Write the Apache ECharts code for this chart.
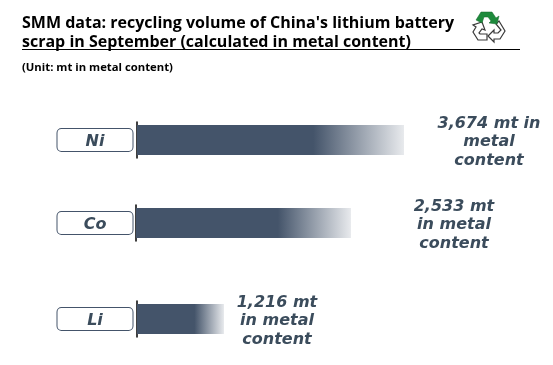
<!DOCTYPE html>
<html>
<head>
<meta charset="utf-8">
<style>
  html, body { margin: 0; padding: 0; background: #fff; }
  #myChart { width: 553px; height: 365px; }
</style>
</head>
<body>
<div id="myChart"></div>
<script src="https://cdn.jsdelivr.net/npm/echarts@6/dist/echarts.min.js"></script>
<script>
const categories = ['Ni', 'Co', 'Li']
// the labelled volumes
const values = [3674, 2533, 1216]
// bar lengths, the artwork is not drawn to scale
const barLengths = [3674, 2958, 1197]
const valueLines = [['mt in', 'metal', 'content'], ['mt', 'in metal', 'content'], ['mt', 'in metal', 'content']]

const title = "SMM data: recycling volume of China's lithium battery\nscrap in September (calculated in metal content)"
const unit = '(Unit: mt in metal content)'

const gridLeft = [137, 136, 137]
const gridTop = [122, 205, 301]
const labelDistance = [85, 103, 53]
const labelFont = 'DejaVu Sans'

const grids = [], xAxes = [], yAxes = [], series = []
categories.forEach(function (name, i) {
  grids.push({ left: gridLeft[i], top: gridTop[i], width: 267, height: 36 })
  xAxes.push({ gridIndex: i, type: 'value', min: 0, max: 3674, show: false })
  yAxes.push({
    gridIndex: i,
    type: 'category',
    data: [name],
    axisLine: { show: true, lineStyle: { color: '#000', width: 1.5 } },
    axisTick: { show: false },
    axisLabel: {
      margin: gridLeft[i] - 95,
      align: 'center',
      padding: [2, 0, 2, 0],
      borderColor: '#44546a',
      borderWidth: 1,
      borderRadius: 4,
      backgroundColor: '#fff',
      formatter: '{box|{value}}',
      rich: {
        box: {
          color: '#3b4c5c',
          fontFamily: labelFont,
          fontStyle: 'italic',
          fontWeight: 'bold',
          fontSize: 16,
          width: 75,
          align: 'center',
          height: 18,
          lineHeight: 18,
          padding: [4, 0, 0, 0]
        }
      }
    }
  })
  series.push({
    type: 'bar',
    xAxisIndex: i,
    yAxisIndex: i,
    barWidth: 30,
    data: [barLengths[i]],
    silent: true,
    itemStyle: {
      color: {
        type: 'linear', x: 0, y: 0, x2: 1, y2: 0,
        colorStops: [
          { offset: 0, color: '#44546a' },
          { offset: 0.66, color: '#44546a' },
          { offset: 1, color: '#e8eaed' }
        ]
      }
    },
    label: {
      show: true,
      position: 'right',
      distance: labelDistance[i],
      offset: [0, 2],
      align: 'center',
      verticalAlign: 'middle',
      color: '#3b4c5c',
      fontFamily: labelFont,
      fontStyle: 'italic',
      fontWeight: 'bold',
      fontSize: 16,
      lineHeight: 18.5,
      formatter: function () {
        let lines = valueLines[i].slice()
        lines[0] = values[i].toLocaleString('en-US') + ' ' + lines[0]
        return lines.join('\n')
      }
    }
  })
})

// recycling symbol in the top right corner
const iconStroke = { stroke: '#3a3a3a', lineWidth: 1.2, fill: '#fff' }
const iconGreen = [[476, 20], [481, 12], [492, 12], [496, 18], [499, 16], [497, 24], [489, 23], [491, 21], [488, 17], [484, 17], [482, 23]]
const iconRight = [[499, 21], [505, 31], [500, 39], [494, 39], [494, 42], [488, 36], [494, 30], [494, 33], [498, 33], [501, 30], [496, 24]]
const iconLeft = [[487, 34], [487, 40], [478, 40], [473, 32], [476, 27], [473, 25], [482, 22], [485, 30], [482, 29], [479, 33], [480, 34]]

let myChart = echarts.init(document.getElementById('myChart'), null, { renderer: 'canvas' })
myChart.setOption({
  animation: false,
  backgroundColor: '#fff',
  title: [
    {
      text: title,
      left: 22,
      top: 14,
      padding: 0,
      textStyle: { fontFamily: 'Open Sans', fontSize: 16, fontWeight: 'bold', color: '#000', lineHeight: 19 }
    },
    {
      text: unit,
      left: 22,
      top: 62,
      padding: 0,
      textStyle: { fontFamily: 'Open Sans', fontSize: 11.3, fontWeight: 'bold', color: '#000' }
    }
  ],
  grid: grids,
  xAxis: xAxes,
  yAxis: yAxes,
  series: series,
  graphic: [
    { type: 'line', shape: { x1: 22, y1: 49.5, x2: 520, y2: 49.5 }, style: { stroke: '#000', lineWidth: 1 } },
    { type: 'polygon', shape: { points: iconRight }, style: iconStroke },
    { type: 'polygon', shape: { points: iconLeft }, style: iconStroke },
    { type: 'polygon', shape: { points: iconGreen }, style: { fill: '#1e8a3c', stroke: '#14662b', lineWidth: 0.5 } }
  ]
})
</script>
</body>
</html>
